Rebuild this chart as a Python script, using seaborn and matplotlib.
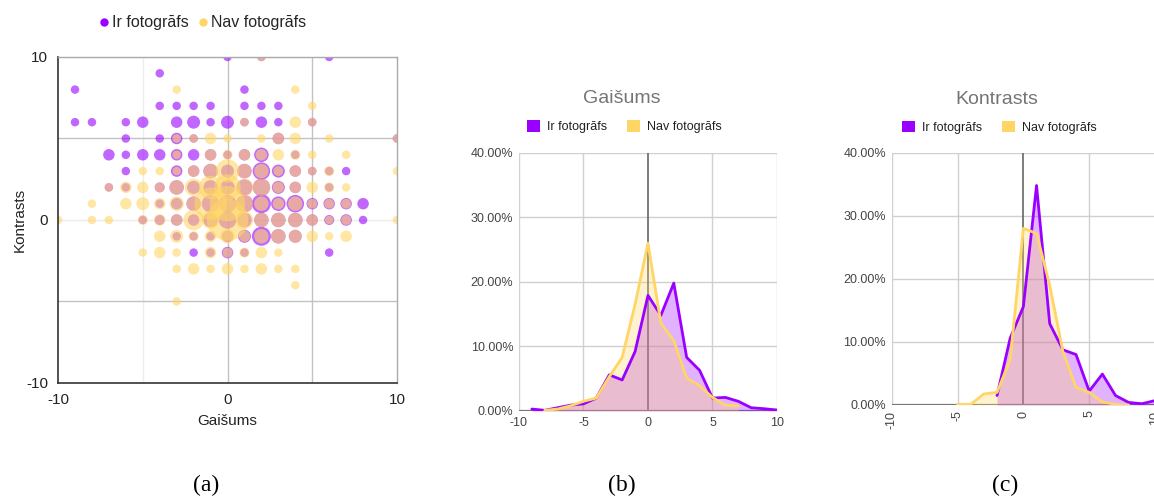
import numpy as np
import pandas as pd
import seaborn as sns
import matplotlib.pyplot as plt
from matplotlib.lines import Line2D
from matplotlib.patches import Patch
from matplotlib.ticker import PercentFormatter

# ---- bubble chart (a): (Gaišums, Kontrasts, relative count) ----
ir_x = [0, 2, 6, -4, -9, 1,
        -4, -3, -2, -1, 1, 2, 3,
        -9, -8, -6, -5, -3, -2, -1, 0, 1, 2, 3, 5,
        -6, -4, -3, -2, 3, 10,
        -7, -6, -5, -4, -3, -2, -1, 0, 1, 2, 4,
        -6, -3, -2, -1, 0, 1, 2, 3, 4, 5, 6, 7,
        -7, -6, -4, -3, -2, -1, 0, 1, 2, 3, 4, 6,
        -4, -3, -2, -1, 0, 1, 2, 3, 4, 5, 6, 7, 8,
        -5, -4, -3, -2, -1, 0, 1, 2, 3, 4, 5, 6, 7, 8,
        -3, -2, -1, 0, 1, 2, 3, 4,
        -2, -1, 0, 1, 6]
ir_y = [10, 10, 10, 9, 8, 8,
        7, 7, 7, 7, 7, 7, 7,
        6, 6, 6, 6, 6, 6, 6, 6, 6, 6, 6, 6,
        5, 5, 5, 5, 5, 5,
        4, 4, 4, 4, 4, 4, 4, 4, 4, 4, 4,
        3, 3, 3, 3, 3, 3, 3, 3, 3, 3, 3, 3,
        2, 2, 2, 2, 2, 2, 2, 2, 2, 2, 2, 2,
        1, 1, 1, 1, 1, 1, 1, 1, 1, 1, 1, 1, 1,
        0, 0, 0, 0, 0, 0, 0, 0, 0, 0, 0, 0, 0, 0,
        -1, -1, -1, -1, -1, -1, -1, -1,
        -2, -2, -2, -2, -2]
ir_n = [1, 1, 1, 1, 1, 1,
        1, 1, 1, 1, 1, 1, 1,
        1, 1, 1, 2, 2, 2.5, 1, 2.5, 1, 2, 1, 1,
        1, 1, 2, 1, 2, 1,
        2, 1, 2, 2, 2, 2, 2, 1, 2, 3, 1,
        1, 2, 2, 3, 2.5, 3, 4, 2.5, 2, 1, 1, 1,
        1, 1, 1.5, 3, 2.5, 3, 3, 3.5, 4, 2.5, 2, 1,
        1, 2, 3, 4, 4, 4, 4.5, 3, 4, 2, 2, 2, 2,
        1, 1.5, 2, 2, 3, 4, 3, 3, 3, 3, 2, 1.5, 2, 1,
        1, 1, 1, 2, 2.5, 4.5, 3, 2.5,
        1, 1, 2, 1, 1]

nav_x = [2, -3, 4, 5, 1, 4, 5,
         -3, -2, -1, 0, 2, 3, 4, 6, 10,
         -3, -1, 0, 1, 2, 3, 4, 5, 7,
         -5, -4, -3, -2, -1, 0, 1, 2, 3, 4, 5, 6, 10,
         -7, -6, -5, -4, -3, -2, -1, 0, 1, 2, 3, 4, 5, 6, 7,
         -8, -6, -5, -4, -3, -2, -1, 0, 1, 2, 3, 4, 5, 6, 7,
         -10, -8, -7, -5, -4, -3, -2, -1, 0, 1, 2, 3, 4, 5, 6, 7, 10,
         -4, -3, -2, -1, 0, 1, 2, 3, 4, 5, 6, 7,
         -5, -4, -3, -1, 0, 1, 2, 3,
         -3, -2, -1, 0, 1, 2, 3, 4,
         4, -3]
nav_y = [10, 8, 8, 7, 6, 6, 6,
         5, 5, 5, 5, 5, 5, 5, 5, 5,
         4, 4, 4, 4, 4, 4, 4, 4, 4,
         3, 3, 3, 3, 3, 3, 3, 3, 3, 3, 3, 3, 3,
         2, 2, 2, 2, 2, 2, 2, 2, 2, 2, 2, 2, 2, 2, 2,
         1, 1, 1, 1, 1, 1, 1, 1, 1, 1, 1, 1, 1, 1, 1,
         0, 0, 0, 0, 0, 0, 0, 0, 0, 0, 0, 0, 0, 0, 0, 0, 0,
         -1, -1, -1, -1, -1, -1, -1, -1, -1, -1, -1, -1,
         -2, -2, -2, -2, -2, -2, -2, -2,
         -3, -3, -3, -3, -3, -3, -3, -3,
         -4, -5]
nav_n = [1, 1, 1, 1, 1, 2, 1,
         1, 1, 2, 1, 1, 2, 2, 1, 1,
         1, 2, 1.5, 2, 2, 2, 1.5, 1, 1,
         1, 1, 1, 2, 3, 6, 3, 3, 1.5, 2, 1, 1.5, 1,
         1, 2, 2, 1.5, 3, 4, 6, 7, 4, 4, 2, 2, 2, 1.5, 1,
         1, 2, 2.5, 2, 3, 3, 9, 10, 4, 3, 2, 3, 1.5, 1.5, 1.5,
         1, 1, 1, 1.5, 2, 2, 5, 4, 12, 4, 3, 3, 3, 2, 1, 1.5, 1,
         2, 2.5, 1.5, 2, 3, 2, 3, 3, 2.5, 2, 1, 2,
         1, 2, 1, 2, 1.5, 1.5, 2, 1,
         1, 2, 1, 2, 1, 2, 1, 1,
         1, 1]

# ---- distributions (b) and (c), percent per integer step ----
steps = list(range(-10, 11))
nan = np.nan
gais_ir = [nan, 0.3, 0.1, 0.5, 0.9, 1.1, 2.0, 5.6, 4.8, 9.2, 17.9,
           14.8, 19.8, 8.3, 6.3, 2.0, 2.1, 1.5, 0.5, 0.35, 0.15]
gais_nav = [0.05, nan, 0.1, 0.3, 0.8, 1.5, 2.0, 5.3, 8.3, 16.5, 26.0,
            13.6, 10.9, 5.1, 3.9, 2.1, 0.9, 0.8, nan, nan, 0.3]
kon_ir = [nan, nan, nan, nan, nan, nan, nan, nan, 1.5, 10.6, 15.6,
          34.8, 12.9, 8.75, 8.0, 2.2, 4.9, 1.5, 0.4, 0.2, 0.7]
kon_nav = [nan, nan, nan, nan, nan, 0.1, 0.1, 1.75, 2.0, 7.2, 28.0,
           27.2, 19.0, 8.5, 2.8, 2.0, 0.5, 0.1, 0.0, nan, nan]

series = ["Ir fotogrāfs", "Nav fotogrāfs"]
PURPLE = "#9900ff"
YELLOW = "#ffd666"
palette = {series[0]: PURPLE, series[1]: YELLOW}

sns.set_theme(style="white")
plt.rcParams["font.family"] = ["Liberation Sans", "DejaVu Sans"]
plt.rcParams["axes.unicode_minus"] = False

fig = plt.figure(figsize=(11.54, 4.99), dpi=100)

# ================= (a) bubble chart =================
ax1 = fig.add_axes([0.0503, 0.2325, 0.2937, 0.6533])
bub = pd.concat([
    pd.DataFrame({"x": ir_x, "y": ir_y, "n": ir_n, "s": series[0]}),
    pd.DataFrame({"x": nav_x, "y": nav_y, "n": nav_n, "s": series[1]}),
], ignore_index=True)
# bubble radius grows linearly with the value (like google charts)
size_map = {v: ((8.5 + (v - 1) * 3.0) * 0.72) ** 2 for v in sorted(bub["n"].unique())}

for gx, c in [(-5, "#ececec"), (0, "#c2c2c2"), (5, "#c2c2c2")]:
    ax1.axvline(gx, color=c, lw=1, zorder=0)
for gy, c in [(5, "#c2c2c2"), (0, "#ececec"), (-5, "#c2c2c2")]:
    ax1.axhline(gy, color=c, lw=1, zorder=0)

sns.scatterplot(data=bub, x="x", y="y", hue="s", size="n", sizes=size_map,
                palette=palette, alpha=0.6, linewidth=0, legend=False, ax=ax1, zorder=2)
ax1.set_xlim(-10, 10)
ax1.set_ylim(-10, 10)
ax1.set_xticks([-10, 0, 10])
ax1.set_yticks([-10, 0, 10])
ax1.tick_params(length=0, labelsize=11, colors="#222222", pad=7)
ax1.set_xlabel("Gaišums", fontsize=11, color="#222222", labelpad=5)
ax1.set_ylabel("Kontrasts", fontsize=11, color="#222222", labelpad=0)
for side in ["left", "bottom"]:
    ax1.spines[side].set_color("#333333")
    ax1.spines[side].set_linewidth(1.2)
for side in ["top", "right"]:
    ax1.spines[side].set_color("#aaaaaa")
    ax1.spines[side].set_linewidth(1)

dots = [Line2D([], [], marker="o", ls="", markersize=6, markerfacecolor=palette[s],
               markeredgewidth=0, label=s) for s in series]
fig.legend(handles=dots, loc="center", bbox_to_anchor=(0.175, 1 - 23 / 499), ncol=2,
           frameon=False, fontsize=11.5, handletextpad=0.1, columnspacing=0.5,
           handlelength=0.8)


# ================= (b), (c) area charts =================
def area_panel(ax, title, ir_vals, nav_vals, rotate):
    df = pd.DataFrame({"x": steps * 2,
                       "v": ir_vals + nav_vals,
                       "s": [series[0]] * len(steps) + [series[1]] * len(steps)})
    # split each series into runs of existing values
    df["seg"] = df.groupby("s")["v"].transform(lambda v: v.isna().cumsum())
    df = df.dropna()
    for gx in [-10, -5, 5, 10]:
        ax.axvline(gx, color="#d0d0d0", lw=1, zorder=0)
    for gy in [10, 20, 30, 40]:
        ax.axhline(gy, color="#d0d0d0", lw=1, zorder=0)
    ax.axvline(0, color="#666666", lw=1.2, zorder=1)
    ax.axhline(0, color="#777777", lw=1.6, zorder=1)
    for s in series:
        for _, part in df[df["s"] == s].groupby("seg"):
            ax.fill_between(part["x"], 0, part["v"], color=palette[s], alpha=0.3,
                            lw=0, zorder=2)
    sns.lineplot(data=df, x="x", y="v", hue="s", units="seg", estimator=None,
                 palette=palette, lw=2, legend=False, ax=ax, zorder=3)
    ax.set_xlim(-10, 10)
    ax.set_ylim(0, 40)
    ax.set_xticks([-10, -5, 0, 5, 10])
    ax.set_yticks([0, 10, 20, 30, 40])
    ax.yaxis.set_major_formatter(PercentFormatter(xmax=100, decimals=2))
    ax.tick_params(length=0, labelsize=9, colors="#444444", pad=4)
    if rotate:
        for lab in ax.get_xticklabels():
            lab.set_rotation(90)
    ax.set_xlabel("")
    ax.set_ylabel("")
    for sp in ax.spines.values():
        sp.set_visible(False)
    ax.set_title(title, fontsize=14, color="#757575", x=0.40, y=1.16)
    squares = [Patch(facecolor=palette[s], edgecolor="none", label=s) for s in series]
    ax.legend(handles=squares, loc="center", bbox_to_anchor=(0.41, 1.1), ncol=2,
              frameon=False, fontsize=9, handlelength=1.0, handleheight=1.0,
              handletextpad=0.6, columnspacing=1.6, labelcolor="#222222")


ax2 = fig.add_axes([0.4497, 0.1764, 0.2236, 0.5176])
area_panel(ax2, "Gaišums", gais_ir, gais_nav, rotate=False)

ax3 = fig.add_axes([0.7727, 0.1884, 0.2282, 0.5056])
area_panel(ax3, "Kontrasts", kon_ir, kon_nav, rotate=True)

# panel captions
for lab, px in [("(a)", 206), ("(b)", 622), ("(c)", 1005)]:
    fig.text(px / 1154, 1 - 485 / 499, lab, ha="center", va="center", fontsize=17,
             family=["Liberation Serif", "DejaVu Serif"], color="black")

fig.savefig("out.png", dpi=100, facecolor="white")
